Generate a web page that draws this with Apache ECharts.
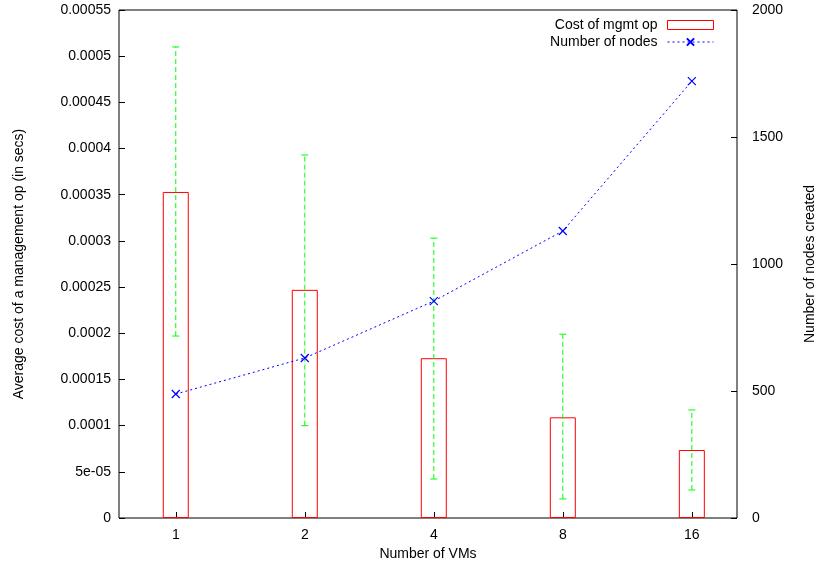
<!DOCTYPE html>
<html><head><meta charset="utf-8">
<script src="https://cdn.jsdelivr.net/npm/echarts@6/dist/echarts.min.js"></script>
<style>html,body{margin:0;padding:0;background:#fff}#c{width:818px;height:569px}</style>
</head><body><div id="c"></div>
<script>
const categories = ['1', '2', '4', '8', '16'];
const costMean = [0.000353, 0.000247, 0.000173, 0.000109, 0.0000736];
const costLow  = [0.000197, 0.000100, 0.0000422, 0.0000206, 0.0000303];
const costHigh = [0.000510, 0.000393, 0.000303, 0.000199, 0.000117];
const nodes = [488, 630, 854, 1130, 1720];
const leftTickLabels = ['0', '5e-05', '0.0001', '0.00015', '0.0002', '0.00025', '0.0003', '0.00035', '0.0004', '0.00045', '0.0005', '0.00055'];
const rightTickLabels = ['0', '500', '1000', '1500', '2000'];

const FONT = 'Liberation Sans, Arial, sans-serif';
const idx = categories.map((c, i) => i);

const chart = echarts.init(document.getElementById('c'), null, {renderer: 'canvas'});
chart.setOption({
  animation: false,
  backgroundColor: '#fff',
  textStyle: {fontFamily: FONT, fontSize: 14, color: '#000'},
  grid: {left: 119, right: 81, top: 10, bottom: 51, containLabel: false, outerBoundsMode: 'none',
    show: true, borderColor: '#000', borderWidth: 1, backgroundColor: 'transparent'},
  legend: {
    orient: 'vertical', right: 99, top: 13, align: 'right',
    itemWidth: 46, itemHeight: 9, itemGap: 3,
    textStyle: {fontFamily: FONT, fontSize: 14, color: '#000', padding: [0, 5, 0, 0]},
    data: [
      {name: 'Cost of mgmt op', icon: 'rect', itemStyle: {color: 'rgba(255,255,255,0)', borderColor: '#ff0000', borderWidth: 1}},
      {name: 'Number of nodes', lineStyle: {width: 1, type: [2, 3], color: '#0000ff'}}
    ]
  },
  xAxis: {
    type: 'value', min: -0.44, max: 4.35,
    name: 'Number of VMs', nameLocation: 'middle', nameGap: 27,
    nameTextStyle: {fontFamily: FONT, fontSize: 14, color: '#000'},
    splitLine: {show: false},
    axisLine: {show: false, onZero: false},
    axisTick: {show: true, inside: true, length: 6, lineStyle: {color: '#000'}, customValues: idx},
    axisLabel: {fontFamily: FONT, fontSize: 14, color: '#000', margin: 10, customValues: idx,
      formatter: v => categories[Math.round(v)]}
  },
  yAxis: [{
    type: 'value', min: 0, max: 0.00055, interval: 0.00005, position: 'left',
    name: 'Average cost of a management op (in secs)', nameLocation: 'middle', nameGap: 93,
    nameTextStyle: {fontFamily: FONT, fontSize: 14, color: '#000'},
    splitLine: {show: false}, axisLine: {show: false, onZero: false},
    axisTick: {show: true, inside: true, length: 6, lineStyle: {color: '#000'}},
    axisLabel: {fontFamily: FONT, fontSize: 14, color: '#000', margin: 8,
      formatter: v => leftTickLabels[Math.round(v / 0.00005)]}
  }, {
    type: 'value', min: 0, max: 2000, interval: 500, position: 'right',
    name: 'Number of nodes created', nameLocation: 'middle', nameGap: 66,
    nameTextStyle: {fontFamily: FONT, fontSize: 14, color: '#000'},
    splitLine: {show: false}, axisLine: {show: false, onZero: false},
    axisTick: {show: true, inside: true, length: 6, lineStyle: {color: '#000'}},
    axisLabel: {fontFamily: FONT, fontSize: 14, color: '#000', margin: 15,
      formatter: v => rightTickLabels[Math.round(v / 500)]}
  }],
  series: [{
    name: 'Cost of mgmt op', type: 'bar', xAxisIndex: 0, yAxisIndex: 0,
    barWidth: 26,
    itemStyle: {color: 'rgba(255,255,255,0)', borderColor: '#ff0000', borderWidth: 1},
    data: costMean.map((v, i) => [i, v]), z: 2
  }, {
    name: 'errors', type: 'custom', xAxisIndex: 0, yAxisIndex: 0, z: 3,
    data: costLow.map((lo, i) => [i, lo, costHigh[i]]),
    renderItem: (params, api) => {
      const x = api.coord([api.value(0), 0])[0];
      const yl = api.coord([0, api.value(1)])[1];
      const yh = api.coord([0, api.value(2)])[1];
      const st = {stroke: '#00ff00', lineWidth: 1};
      return {type: 'group', children: [
        {type: 'line', shape: {x1: x, y1: yl, x2: x, y2: yh}, style: Object.assign({lineDash: [5, 3]}, st)},
        {type: 'line', shape: {x1: x - 3.5, y1: yh, x2: x + 3.5, y2: yh}, style: st},
        {type: 'line', shape: {x1: x - 3.5, y1: yl, x2: x + 3.5, y2: yl}, style: st}
      ]};
    }
  }, {
    name: 'Number of nodes', type: 'line', xAxisIndex: 0, yAxisIndex: 1, z: 4,
    symbol: 'path://M0,0L10,10M10,0L0,10', symbolSize: 8,
    itemStyle: {color: 'rgba(0,0,255,0)', borderColor: '#0000ff', borderWidth: 1.2},
    lineStyle: {color: '#0000ff', width: 1, type: [2, 3]},
    data: nodes.map((v, i) => [i, v])
  }]
});
</script></body></html>
